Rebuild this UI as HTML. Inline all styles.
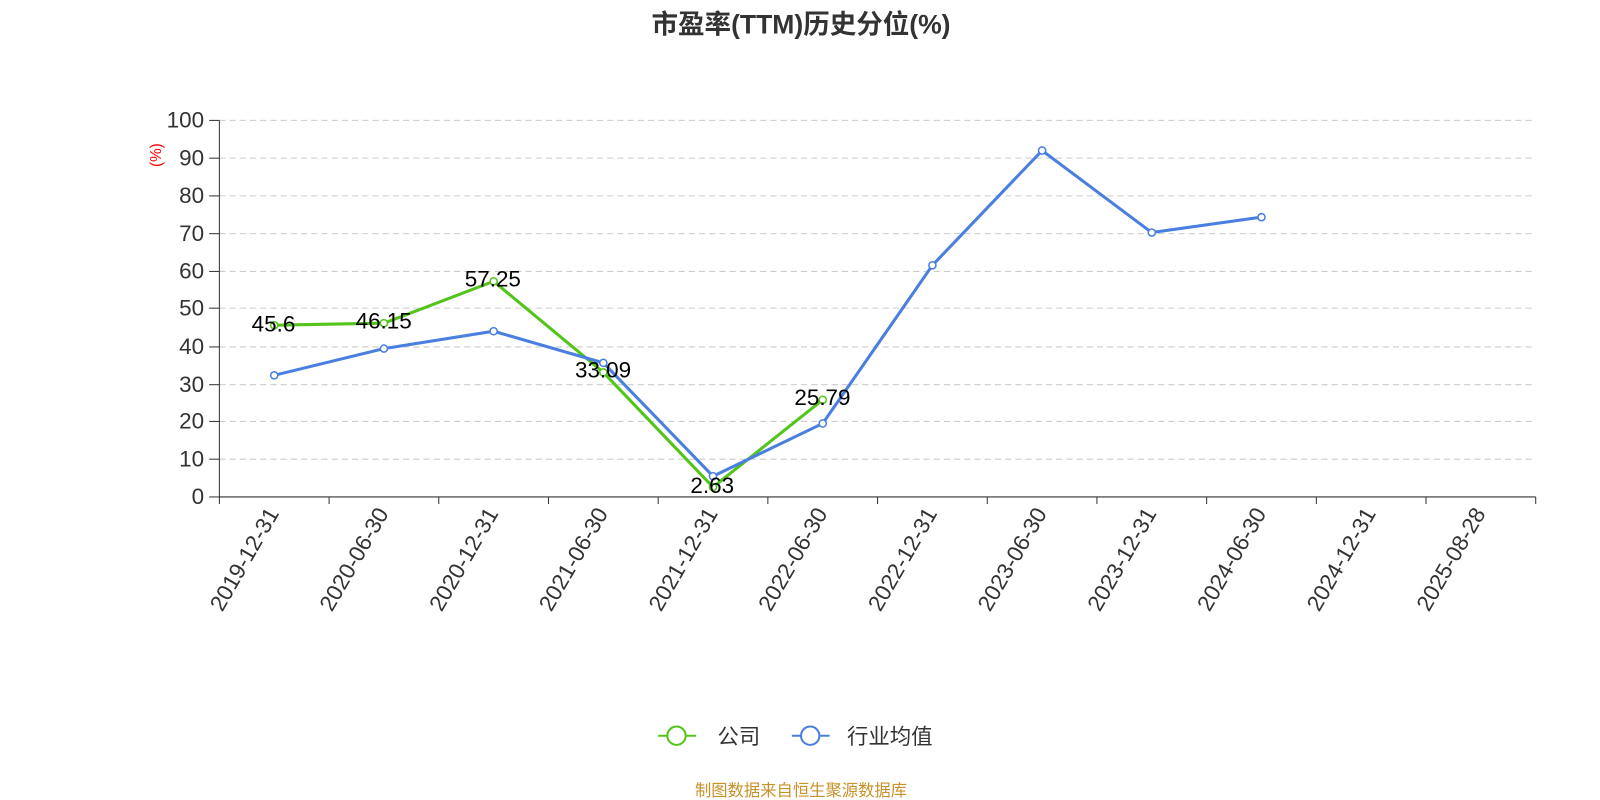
<!DOCTYPE html>
<html><head><meta charset="utf-8"><style>
html,body{margin:0;padding:0;background:#fff;}
svg{display:block;font-family:"Liberation Sans","Noto Sans CJK SC",sans-serif;}
</style></head><body>
<svg width="1600" height="800" viewBox="0 0 1568 784" preserveAspectRatio="none" xmlns="http://www.w3.org/2000/svg">
<text x="785" y="33" text-anchor="middle" font-size="26" font-weight="bold" fill="#333">市盈率(TTM)历史分位(%)</text>
<g stroke="#ccc" stroke-dasharray="6,4" stroke-width="1">
<line x1="215" x2="1505" y1="118" y2="118"/><line x1="215" x2="1505" y1="155" y2="155"/>
<line x1="215" x2="1505" y1="192" y2="192"/><line x1="215" x2="1505" y1="229" y2="229"/>
<line x1="215" x2="1505" y1="266" y2="266"/><line x1="215" x2="1505" y1="302" y2="302"/>
<line x1="215" x2="1505" y1="340" y2="340"/><line x1="215" x2="1505" y1="377" y2="377"/>
<line x1="215" x2="1505" y1="413" y2="413"/><line x1="215" x2="1505" y1="450" y2="450"/>
</g>
<line x1="215" x2="215" y1="118" y2="487" stroke="#333"/>
<line x1="215" x2="1505" y1="487" y2="487" stroke="#333"/>
<g stroke="#333">
<line x1="205" x2="215" y1="118" y2="118"/><line x1="205" x2="215" y1="155" y2="155"/><line x1="205" x2="215" y1="192" y2="192"/><line x1="205" x2="215" y1="229" y2="229"/><line x1="205" x2="215" y1="266" y2="266"/><line x1="205" x2="215" y1="302" y2="302"/><line x1="205" x2="215" y1="340" y2="340"/><line x1="205" x2="215" y1="377" y2="377"/><line x1="205" x2="215" y1="413" y2="413"/><line x1="205" x2="215" y1="450" y2="450"/><line x1="205" x2="215" y1="487" y2="487"/>
<line x1="215" x2="215" y1="487" y2="494"/><line x1="322.5" x2="322.5" y1="487" y2="494"/><line x1="430" x2="430" y1="487" y2="494"/><line x1="537.5" x2="537.5" y1="487" y2="494"/><line x1="645" x2="645" y1="487" y2="494"/><line x1="752.5" x2="752.5" y1="487" y2="494"/><line x1="860" x2="860" y1="487" y2="494"/><line x1="967.5" x2="967.5" y1="487" y2="494"/><line x1="1075" x2="1075" y1="487" y2="494"/><line x1="1182.5" x2="1182.5" y1="487" y2="494"/><line x1="1290" x2="1290" y1="487" y2="494"/><line x1="1397.5" x2="1397.5" y1="487" y2="494"/><line x1="1505" x2="1505" y1="487" y2="494"/>
</g>
<g font-size="22" fill="#333" text-anchor="end">
<text x="200" y="125">100</text><text x="200" y="162">90</text><text x="200" y="199">80</text><text x="200" y="236">70</text><text x="200" y="273">60</text><text x="200" y="309">50</text><text x="200" y="347">40</text><text x="200" y="384">30</text><text x="200" y="420">20</text><text x="200" y="457">10</text><text x="200" y="494">0</text>
</g>
<text x="158" y="152" font-size="15" fill="red" text-anchor="middle" transform="rotate(-90 158 152)">(%)</text>
<g font-size="22" fill="#333" text-anchor="end">
<text transform="translate(274 503) rotate(-60)">2019-12-31</text>
<text transform="translate(381.5 503) rotate(-60)">2020-06-30</text>
<text transform="translate(489 503) rotate(-60)">2020-12-31</text>
<text transform="translate(596.5 503) rotate(-60)">2021-06-30</text>
<text transform="translate(704 503) rotate(-60)">2021-12-31</text>
<text transform="translate(811.5 503) rotate(-60)">2022-06-30</text>
<text transform="translate(919 503) rotate(-60)">2022-12-31</text>
<text transform="translate(1026.5 503) rotate(-60)">2023-06-30</text>
<text transform="translate(1134 503) rotate(-60)">2023-12-31</text>
<text transform="translate(1241.5 503) rotate(-60)">2024-06-30</text>
<text transform="translate(1349 503) rotate(-60)">2024-12-31</text>
<text transform="translate(1456.5 503) rotate(-60)">2025-08-28</text>
</g>
<polyline fill="none" stroke="#52c41a" stroke-width="3" points="268.75,318.7 376.25,316.7 483.75,275.7 591.25,364.9 698.75,477.3 806.25,391.8"/>
<polyline fill="none" stroke="#4a7fe0" stroke-width="3" points="268.75,367.8 376.25,341.6 483.75,324.6 591.25,355.6 698.75,466.7 806.25,415 913.75,260 1021.25,147.5 1128.75,227.9 1236.25,212.8"/>
<g fill="#fff" stroke="#52c41a" stroke-width="1.5">
<circle cx="268.75" cy="318.7" r="3.5"/><circle cx="376.25" cy="316.7" r="3.5"/><circle cx="483.75" cy="275.7" r="3.5"/><circle cx="591.25" cy="364.9" r="3.5"/><circle cx="698.75" cy="477.3" r="3.5"/><circle cx="806.25" cy="391.8" r="3.5"/>
</g>
<g fill="#fff" stroke="#4a7fe0" stroke-width="1.5">
<circle cx="268.75" cy="367.8" r="3.5"/><circle cx="376.25" cy="341.6" r="3.5"/><circle cx="483.75" cy="324.6" r="3.5"/><circle cx="591.25" cy="355.6" r="3.5"/><circle cx="698.75" cy="466.7" r="3.5"/><circle cx="806.25" cy="415" r="3.5"/><circle cx="913.75" cy="260" r="3.5"/><circle cx="1021.25" cy="147.5" r="3.5"/><circle cx="1128.75" cy="227.9" r="3.5"/><circle cx="1236.25" cy="212.8" r="3.5"/>
</g>
<g font-size="22" fill="#000" text-anchor="middle">
<text x="268" y="325">45.6</text><text x="376" y="322">46.15</text><text x="483" y="281">57.25</text><text x="591" y="370">33.09</text><text x="698" y="483">2.63</text><text x="806" y="397">25.79</text>
</g>
<line x1="645" x2="682" y1="721" y2="721" stroke="#52c41a" stroke-width="2"/>
<circle cx="663" cy="721" r="9" fill="#fff" stroke="#52c41a" stroke-width="2"/>
<text x="703" y="729" font-size="21" fill="#333">公司</text>
<line x1="776" x2="813" y1="721" y2="721" stroke="#4a7fe0" stroke-width="2"/>
<circle cx="794" cy="721" r="9" fill="#fff" stroke="#4a7fe0" stroke-width="2"/>
<text x="830" y="729" font-size="21" fill="#333">行业均值</text>
<text x="785" y="780" font-size="16" fill="#c8922a" text-anchor="middle">制图数据来自恒生聚源数据库</text>
</svg>
</body></html>
